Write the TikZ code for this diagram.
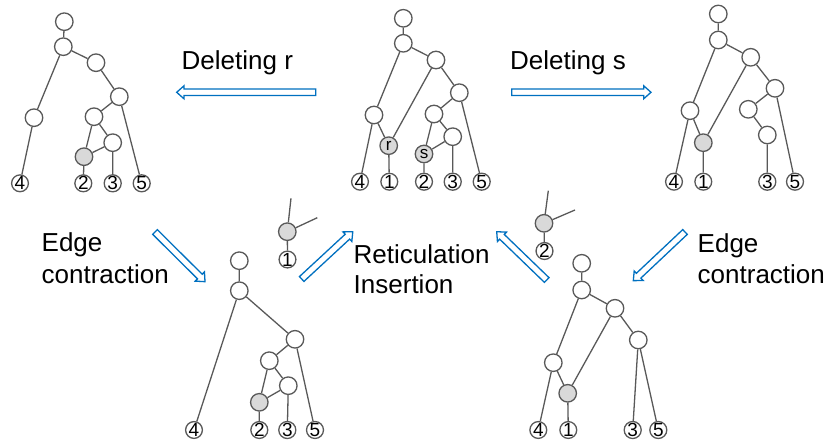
\documentclass[tikz,border=0pt]{standalone}
\usepackage{fontspec}
\setmainfont{Liberation Sans}
\definecolor{lc}{RGB}{89,89,89}
\definecolor{gfill}{RGB}{217,217,217}
\definecolor{ab}{RGB}{0,112,192}
\tikzset{
  pics/blockarrow/.style={code={
    \draw[draw=ab, line width=1.3pt, line join=miter, fill=white]
      (0,-3.3) -- (#1-7.3,-3.3) -- (#1-7.3,-6.5) -- (#1,0) -- (#1-7.3,6.5) -- (#1-7.3,3.3) -- (0,3.3) -- cycle;}}
}
\begin{document}
\begin{tikzpicture}[x=1pt,y=-1pt,
  edge/.style={draw=lc, line width=1.3pt},
  inn/.style={circle, draw=lc, line width=1.3pt, fill=white, minimum size=17.5pt, inner sep=0pt},
  lf/.style={circle, draw=lc, line width=1.3pt, fill=white, minimum size=16.5pt, inner sep=0pt, font=\fontsize{19}{19}\selectfont},
  rt/.style={inn, fill=gfill, font=\fontsize{17}{17}\selectfont},
  lbl/.style={anchor=base west, inner sep=0pt, font=\fontsize{26}{26}\selectfont}]
\useasboundingbox (0,0) rectangle (827,443);

% ---------- Tree A (top left)
\node[inn] (a0) at (64.3,21.7) {};
\node[inn] (a1) at (63.3,46.7) {};
\node[inn] (a2) at (96,62.7) {};
\node[inn] (a3) at (119.3,96.7) {};
\node[inn] (a4) at (34,117.7) {};
\node[inn] (a5) at (94,116.7) {};
\node[inn] (a6) at (112.7,142.7) {};
\node[rt]  (ag) at (84,156.7) {};
\node[lf] (al4) at (20,183.3) {4};
\node[lf] (al2) at (83.3,183.3) {2};
\node[lf] (al3) at (112.7,183.3) {3};
\node[lf] (al5) at (141.7,183.3) {5};
\draw[edge] (a0)--(a1) (a1)--(a2) (a1)--(a4) (a4)--(al4) (a2)--(a3) (a3)--(a5) (a3)--(al5)
  (a5)--(ag) (a5)--(a6) (a6)--(ag) (a6)--(al3) (ag)--(al2);

% ---------- Tree B (top middle)
\node[inn] (b0) at (403.3,18.3) {};
\node[inn] (b1) at (403.3,43.3) {};
\node[inn] (b2) at (436,60) {};
\node[inn] (b3) at (459.3,92.7) {};
\node[inn] (b4) at (374,115) {};
\node[rt]  (br) at (388.7,145.7) {\raisebox{-2pt}{r}};
\node[inn] (b5) at (434,114) {};
\node[inn] (b6) at (452.7,136.7) {};
\node[rt]  (bs) at (424,154) {\raisebox{-3pt}{s}};
\node[lf] (bl4) at (360,181.7) {4};
\node[lf] (bl1) at (389.3,181.7) {1};
\node[lf] (bl2) at (424,181.7) {2};
\node[lf] (bl3) at (452.7,181.7) {3};
\node[lf] (bl5) at (481.7,181.7) {5};
\draw[edge] (b0)--(b1) (b1)--(b2) (b1)--(b4) (b4)--(bl4) (b4)--(br) (b2)--(br) (br)--(bl1)
  (b2)--(b3) (b3)--(b5) (b3)--(bl5) (b5)--(bs) (b5)--(b6) (b6)--(bs) (b6)--(bl3) (bs)--(bl2);

% ---------- Tree C (top right)
\node[inn] (c0) at (718.3,14) {};
\node[inn] (c1) at (718.3,40) {};
\node[inn] (c2) at (750.7,57.3) {};
\node[inn] (c3) at (775,88.3) {};
\node[inn] (c4) at (690,110.7) {};
\node[rt]  (cg) at (703.3,142.7) {};
\node[inn] (c5) at (748.3,109.3) {};
\node[inn] (c6) at (767.3,135) {};
\node[lf] (cl4) at (674,181.7) {4};
\node[lf] (cl1) at (703.3,181.7) {1};
\node[lf] (cl3) at (767.3,181.7) {3};
\node[lf] (cl5) at (795,181.7) {5};
\draw[edge] (c0)--(c1) (c1)--(c2) (c1)--(c4) (c4)--(cl4) (c4)--(cg) (c2)--(cg) (cg)--(cl1)
  (c2)--(c3) (c3)--(c5) (c3)--(cl5) (c5)--(c6) (c6)--(cl3);

% ---------- Tree D (bottom left)
\node[inn] (d0) at (239.3,260.7) {};
\node[inn] (d1) at (239.3,290.7) {};
\node[inn] (d2) at (295,339.3) {};
\node[inn] (d3) at (269.3,360.7) {};
\node[inn] (d4) at (288.3,385.7) {};
\node[rt]  (dg) at (259.3,402.3) {};
\node[lf] (dl4) at (194,430) {4};
\node[lf] (dl2) at (259.3,430) {2};
\node[lf] (dl3) at (287.3,430) {3};
\node[lf] (dl5) at (315,430) {5};
\draw[edge] (d0)--(d1) (d1)--(dl4) (d1)--(d2) (d2)--(d3) (d2)--(dl5) (d3)--(dg) (d3)--(d4)
  (d4)--(dg) (d4)--(dl3) (dg)--(dl2);

% ---------- Tree E (bottom right)
\node[inn] (e0) at (581.7,263.3) {};
\node[inn] (e1) at (581.7,290) {};
\node[inn] (e2) at (615,308.3) {};
\node[inn] (e3) at (638.3,340) {};
\node[inn] (e4) at (553.3,362.7) {};
\node[rt]  (eg) at (567.7,393.3) {};
\node[lf] (el4) at (538.3,430) {4};
\node[lf] (el1) at (568.3,430) {1};
\node[lf] (el3) at (632.7,430) {3};
\node[lf] (el5) at (658.3,430) {5};
\draw[edge] (e0)--(e1) (e1)--(e2) (e1)--(e4) (e4)--(el4) (e4)--(eg) (e2)--(eg) (eg)--(el1)
  (e2)--(e3) (e3)--(el3) (e3)--(el5);

% ---------- Fragments
\node[rt] (f1g) at (287.3,231.7) {};
\node[lf] (f1l) at (287.5,259.5) {1};
\coordinate (f1u) at (291,198.3);
\coordinate (f1r) at (317.3,217.7);
\draw[edge] (f1g)--(f1l) (f1g)--(f1u) (f1g)--(f1r);

\node[rt] (f2g) at (544,223.3) {};
\node[lf] (f2l) at (544.5,251) {2};
\coordinate (f2u) at (548.3,190.7);
\coordinate (f2r) at (575,210);
\draw[edge] (f2g)--(f2l) (f2g)--(f2u) (f2g)--(f2r);

% ---------- Block arrows
\coordinate (t1) at (315.7,92.3);
\coordinate (t2) at (511.7,92.3);
\coordinate (t3) at (155,232);
\coordinate (t4) at (301.7,279);
\coordinate (t5) at (546.7,280);
\coordinate (t6) at (685,232);
\pic[rotate=180] at (t1) {blockarrow=139};
\pic at (t2) {blockarrow=139.3};
\pic[rotate=-44.8] at (t3) {blockarrow=70.5};
\pic[rotate=42.8] at (t4) {blockarrow=69.6};
\pic[rotate=136] at (t5) {blockarrow=69.5};
\pic[rotate=-136.7] at (t6) {blockarrow=71};

% ---------- Labels
\node[lbl] (lr) at (181.5,70) {Deleting r};
\node[lbl] (ls) at (510,70) {Deleting s};
\node[lbl] (le1) at (41.5,252) {Edge};
\node[lbl] (lc1) at (41.5,283.3) {contraction};
\node[lbl] (lre) at (353.5,263.5) {Reticulation};
\node[lbl] (lin) at (353.5,293.5) {Insertion};
\node[lbl] (le2) at (697.5,252.3) {Edge};
\node[lbl] (lc2) at (697.5,283.3) {contraction};
\end{tikzpicture}
\end{document}
